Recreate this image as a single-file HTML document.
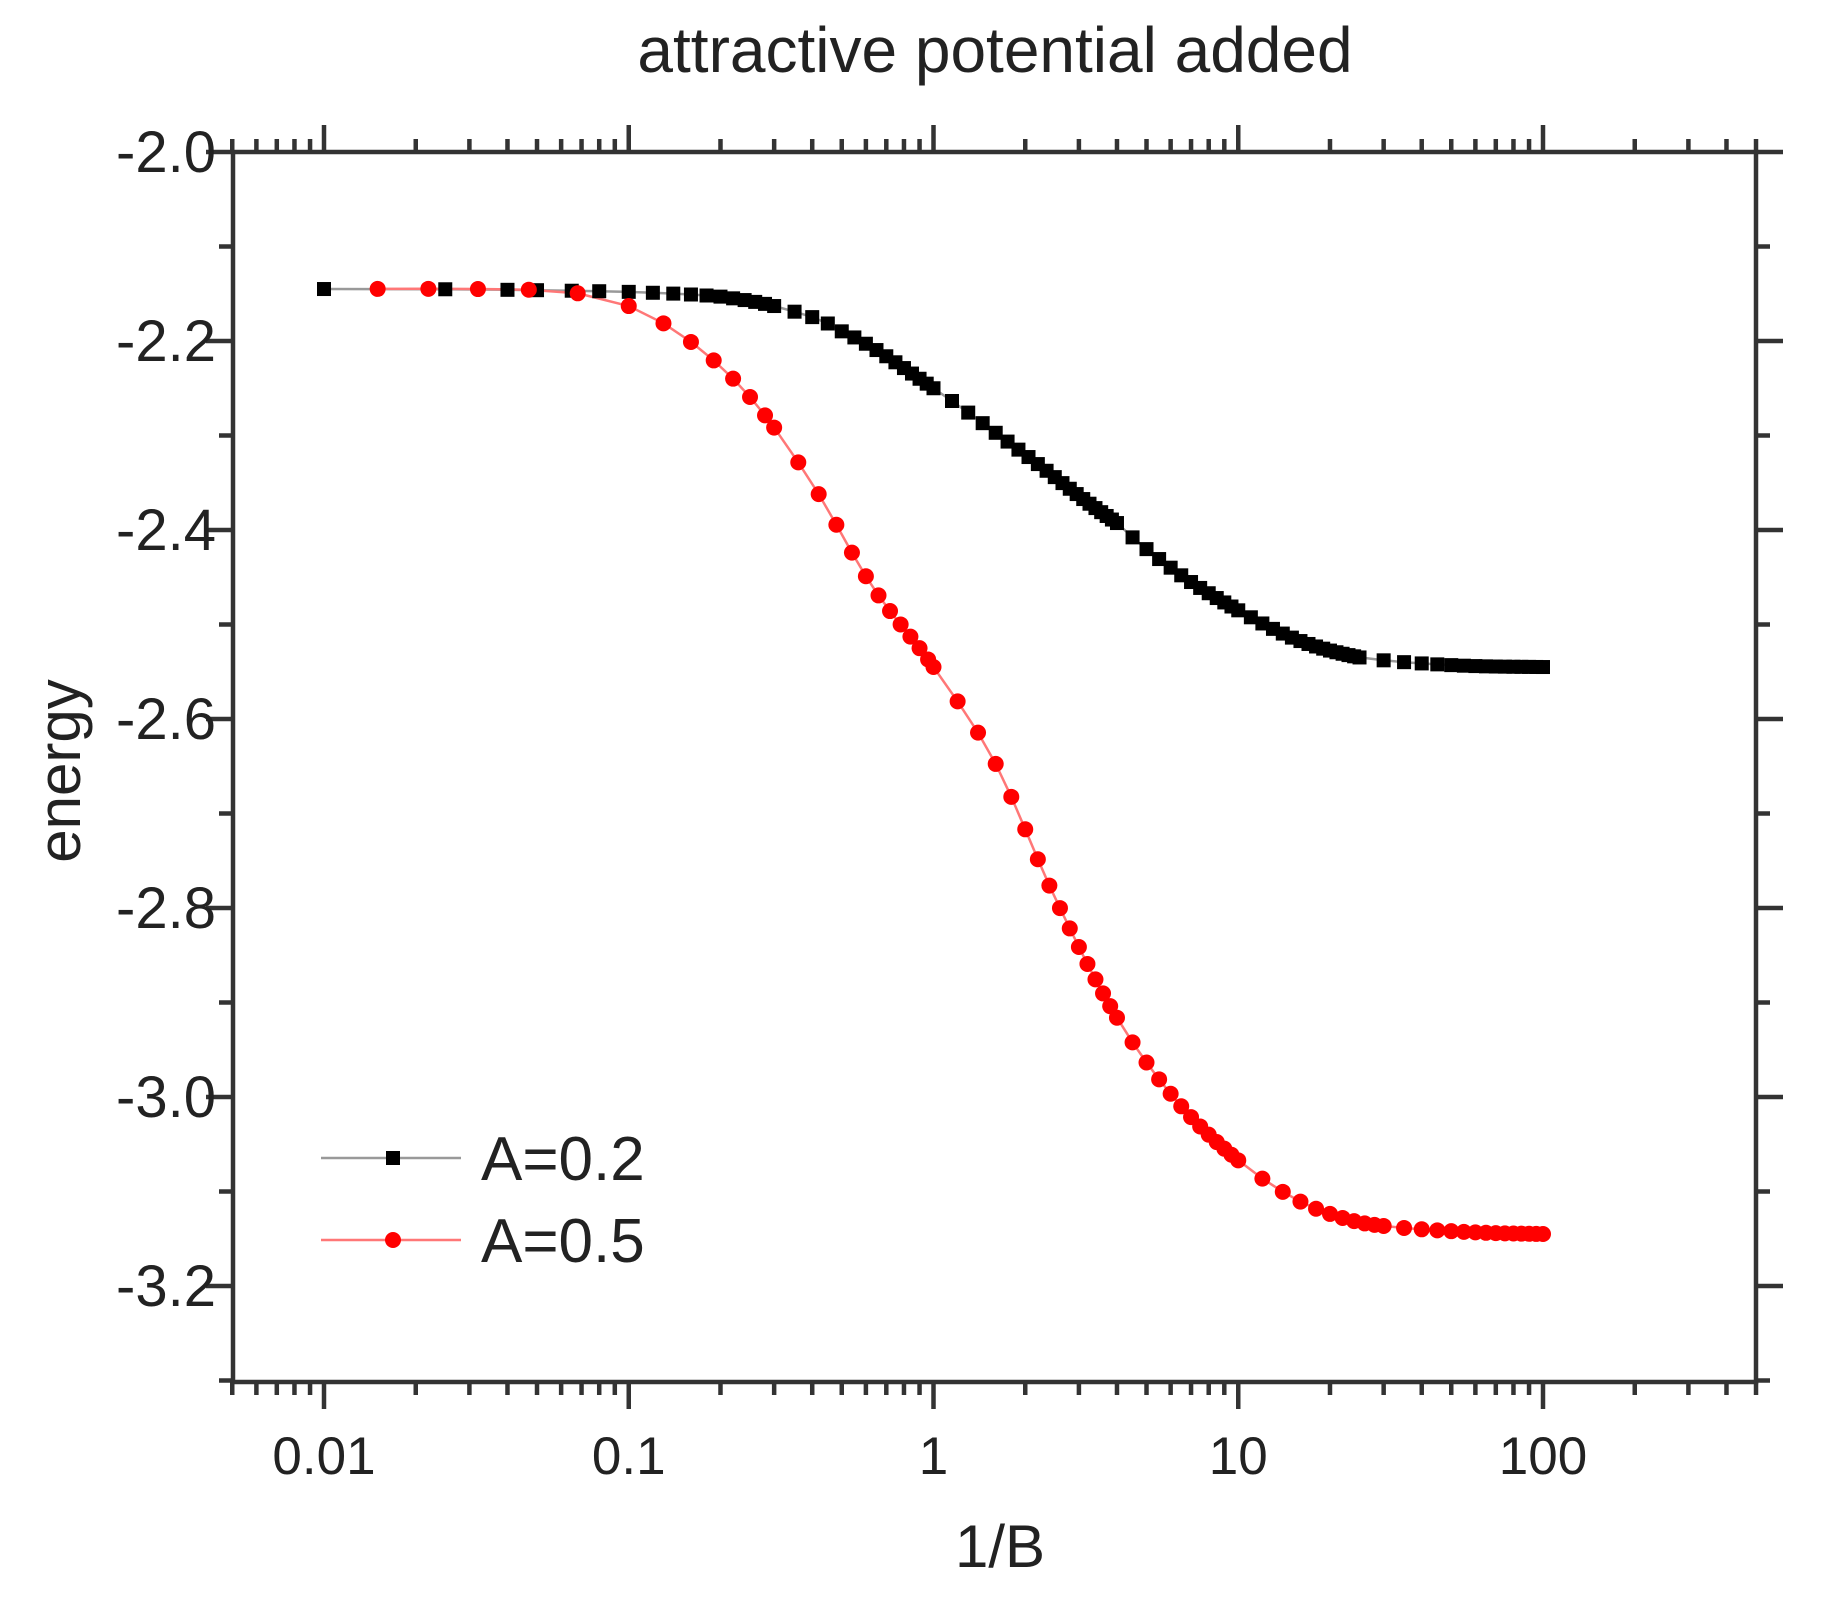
<!DOCTYPE html>
<html><head><meta charset="utf-8"><style>body{margin:0;background:#fff}svg{display:block}</style></head>
<body>
<svg id="s" width="1822" height="1608" xmlns="http://www.w3.org/2000/svg" font-family="Liberation Sans, Arial, sans-serif" fill="#222">
<text x="995" y="72" font-size="64" text-anchor="middle">attractive potential added</text>
<g id="ax" stroke="#333" stroke-width="4.5" fill="none"></g>
<g id="lab" font-size="53"></g>
<g id="ylab" font-size="58"></g>
<text x="1000" y="1567" font-size="60" text-anchor="middle">1/B</text>
<text transform="translate(80,771) rotate(-90)" font-size="60" text-anchor="middle">energy</text>
<g id="data"></g>
<g id="leg">
<line x1="321" y1="1158" x2="461" y2="1158" stroke="#999" stroke-width="2.5"/>
<rect x="386" y="1151" width="14" height="14" fill="#000"/>
<text x="481" y="1180" font-size="62">A=0.2</text>
<line x1="321" y1="1240" x2="461" y2="1240" stroke="#f77" stroke-width="2.5"/>
<circle cx="393" cy="1240" r="8" fill="#f00"/>
<text x="481" y="1262" font-size="62">A=0.5</text>
</g>
</svg>
<script>
var NS="http://www.w3.org/2000/svg";
function X(v){return 324+304.75*(Math.log10(v)+2);}
function Y(e){return 152+945*(-2-e);}
function el(t,a,p){var e=document.createElementNS(NS,t);for(var k in a)e.setAttribute(k,a[k]);p.appendChild(e);return e;}
var ax=document.getElementById('ax'),lab=document.getElementById('lab'),ylab=document.getElementById('ylab');
var L=233,R=1756,T=152,B=1382;
el('rect',{x:L,y:T,width:R-L,height:B-T},ax);
for(var d=-3;d<=2;d++){for(var m=1;m<10;m++){var v=m*Math.pow(10,d);if(v<0.005-1e-9||v>500+1e-9)continue;var x=X(v);var len=(m==1)?27:13;
el('line',{x1:x,y1:T,x2:x,y2:T-len},ax);el('line',{x1:x,y1:B,x2:x,y2:B+len},ax);
if(m==1){var t=el('text',{x:x,y:1474,'text-anchor':'middle'},lab);t.textContent=String(v>=1?v:v.toFixed(-d));}}}
for(var i=0;i<=13;i++){var e=-2-0.1*i;var y=Y(e);var major=(i%2==0);var len=major?27:14;
el('line',{x1:L,y1:y,x2:L-len,y2:y},ax);el('line',{x1:R,y1:y,x2:R+len,y2:y},ax);
if(major){var t=el('text',{x:216,y:y+20,'text-anchor':'end'},ylab);t.textContent=e.toFixed(1);}}
function interp(c,l){for(var i=0;i<c.length-1;i++){if(l<=c[i+1][0]){var f=(l-c[i][0])/(c[i+1][0]-c[i][0]);
var p0=c[Math.max(i-1,0)][1],p1=c[i][1],p2=c[i+1][1],p3=c[Math.min(i+2,c.length-1)][1];
var t=f,t2=t*t,t3=t2*t;return 0.5*((2*p1)+(-p0+p2)*t+(2*p0-5*p1+4*p2-p3)*t2+(-p0+3*p1-3*p2+p3)*t3);}}return c[c.length-1][1];}
var cb=[[-2,-2.145],[-1.5,-2.1455],[-1,-2.148],[-0.7,-2.153],[-0.5,-2.165],[-0.3,-2.19],[0,-2.25],[0.3,-2.32],[0.6,-2.392],[0.8,-2.445],[1,-2.485],[1.2,-2.517],[1.4,-2.535],[1.7,-2.543],[2,-2.545]];
var cr=[[-2,-2.145],[-1.5,-2.145],[-1.2,-2.148],[-1,-2.163],[-0.8,-2.2],[-0.6,-2.26],[-0.4,-2.35],[-0.2,-2.46],[0,-2.545],[0.2,-2.645],[0.4,-2.79],[0.6,-2.915],[0.8,-3.005],[1,-3.067],[1.2,-3.11],[1.4,-3.133],[1.7,-3.142],[2,-3.145]];
function range(a,b,s,arr){for(var v=a;v<b-1e-9;v+=s)arr.push(+v.toFixed(4));}
var xb=[0.01,0.025,0.04,0.05,0.065,0.08];range(0.1,0.3,0.02,xb);range(0.3,1,0.05,xb);range(1,4,0.15,xb);range(4,10,0.5,xb);range(10,25,1,xb);range(25,100.01,5,xb);
var xr=[0.015,0.022,0.032,0.047,0.068];range(0.1,0.3,0.03,xr);range(0.3,1,0.06,xr);range(1,4,0.2,xr);range(4,10,0.5,xr);range(10,30,2,xr);range(30,100.01,5,xr);
var g=document.getElementById('data');
function series(xs,c,lc){var pts=xs.map(function(v){return [X(v),Y(interp(c,Math.log10(v)))];});
el('polyline',{points:pts.map(function(p){return p[0].toFixed(1)+','+p[1].toFixed(1)}).join(' '),fill:'none',stroke:lc,'stroke-width':2.5},g);
return pts;}
var pb=series(xb,cb,'#999'),pr=series(xr,cr,'#f77');
pb.forEach(function(p){el('rect',{x:p[0]-7,y:p[1]-7,width:14,height:14,fill:'#000'},g);});
pr.forEach(function(p){el('circle',{cx:p[0],cy:p[1],r:8,fill:'#f00'},g);});
</script>
</body></html>
